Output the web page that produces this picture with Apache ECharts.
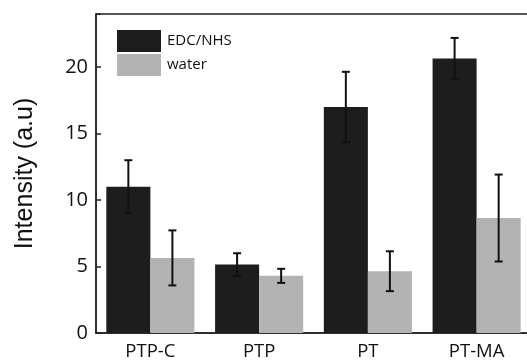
<!DOCTYPE html>
<html>
<head>
<meta charset="utf-8">
<style>html,body{margin:0;padding:0;background:#fff;}#c{width:527px;height:362px;}</style>
<script src="https://cdn.jsdelivr.net/npm/echarts@6/dist/echarts.min.js"></script>
</head>
<body>
<div id="c"></div>
<script>
var categories = ['PTP-C', 'PTP', 'PT', 'PT-MA'];
var edcValues = [11.0, 5.15, 17.0, 20.65];
var edcErrors = [2.0, 0.85, 2.65, 1.55];
var waterValues = [5.65, 4.3, 4.65, 8.65];
var waterErrors = [2.07, 0.53, 1.5, 3.27];
var yTicks = [0, 5, 10, 15, 20];

var chart = echarts.init(document.getElementById('c'), null, {renderer: 'canvas'});

function errData(vals, errs) {
  return vals.map(function (v, i) { return [i, v - errs[i], v + errs[i]]; });
}
var BAR_FRAC = 0.405;
function errSeries(vals, errs, sign) {
  return {
    type: 'custom',
    data: errData(vals, errs),
    z: 5,
    silent: true,
    renderItem: function (params, api) {
      var i = api.value(0);
      var lo = api.coord([i, api.value(1)]);
      var hi = api.coord([i, api.value(2)]);
      var band = api.size([1, 0])[0];
      var x = lo[0] + sign * band * BAR_FRAC / 2;
      var cap = 4;
      var st = {stroke: '#111', lineWidth: 2};
      return {
        type: 'group',
        children: [
          {type: 'line', shape: {x1: x, y1: lo[1], x2: x, y2: hi[1]}, style: st},
          {type: 'line', shape: {x1: x - cap, y1: lo[1], x2: x + cap, y2: lo[1]}, style: st},
          {type: 'line', shape: {x1: x - cap, y1: hi[1], x2: x + cap, y2: hi[1]}, style: st}
        ]
      };
    }
  };
}

chart.setOption({
  animation: false,
  backgroundColor: '#fff',
  grid: {left: 96, top: 14, width: 435, bottom: 29, outerBoundsMode: 'none', containLabel: false,
    show: true, borderColor: '#222', borderWidth: 1.5, backgroundColor: 'transparent'},
  legend: {
    orient: 'vertical', left: 112, top: 25, itemWidth: 44, itemHeight: 22, itemGap: 2,
    icon: 'rect',
    textStyle: {fontFamily: 'Open Sans', fontSize: 15, color: '#111', padding: [0, 0, 0, 1]},
    data: ['EDC/NHS', 'water']
  },
  xAxis: {
    type: 'category', data: categories,
    axisLine: {onZero: false, lineStyle: {color: '#222', width: 1.5}},
    axisTick: {show: false},
    axisLabel: {fontFamily: 'Open Sans', fontSize: 18.5, color: '#111', margin: 9}
  },
  yAxis: {
    type: 'value', min: 0, max: 24, interval: 5,
    name: 'Intensity (a.u)', nameLocation: 'middle', nameGap: 58,
    nameTextStyle: {fontFamily: 'Liberation Sans', fontSize: 25, color: '#111'},
    axisLine: {show: true, lineStyle: {color: '#222', width: 1.5}},
    axisTick: {show: true, inside: true, length: 5, lineStyle: {color: '#222', width: 1.5}},
    splitLine: {show: false},
    axisLabel: {fontFamily: 'Open Sans', fontSize: 20, color: '#111', margin: 8,
      formatter: function (v) { return yTicks.indexOf(v) >= 0 ? String(v) : ''; }}
  },
  series: [
    {name: 'EDC/NHS', type: 'bar', data: edcValues, barWidth: '40.5%', barGap: '0%', itemStyle: {color: '#1d1d1d'}},
    {name: 'water', type: 'bar', data: waterValues, barWidth: '40.5%', barGap: '0%', itemStyle: {color: '#b3b3b3'}},
    errSeries(edcValues, edcErrors, -1),
    errSeries(waterValues, waterErrors, 1)
  ]
});
</script>
</body>
</html>
